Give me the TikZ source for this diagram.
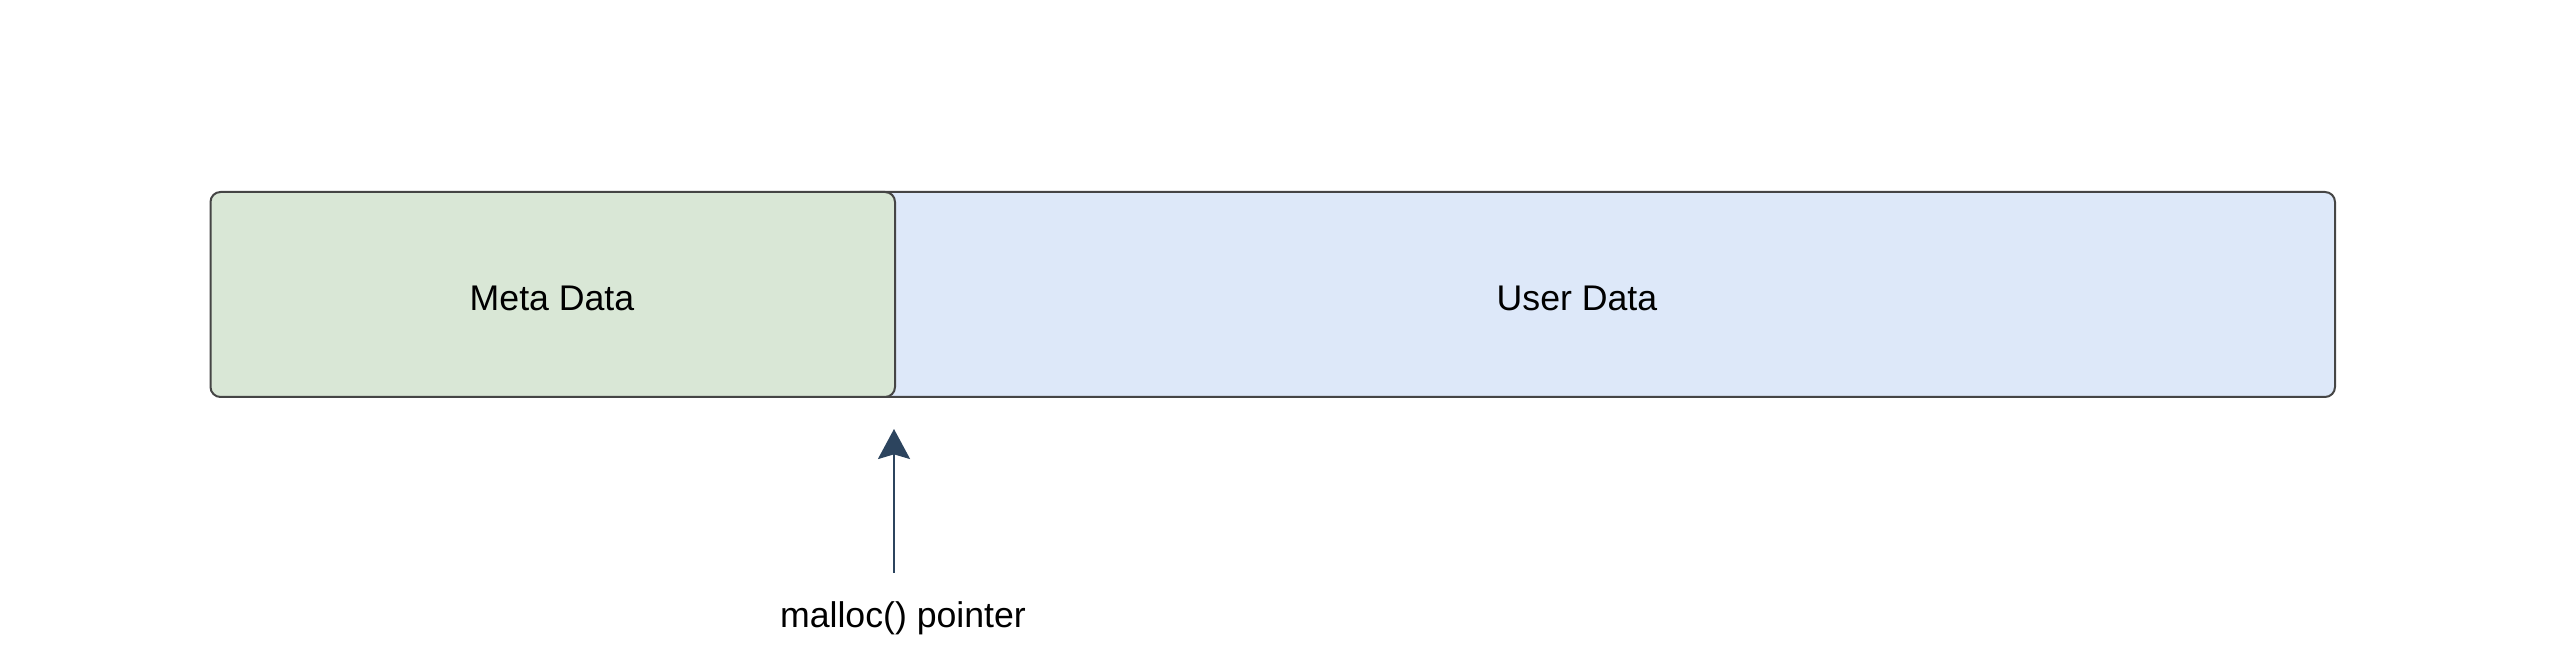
\documentclass[tikz,border=0pt]{standalone}
\usepackage{fontspec}
\setmainfont{Liberation Sans}
\usetikzlibrary{arrows.meta}
\definecolor{metafill}{HTML}{D9E7D6}
\definecolor{userfill}{HTML}{DDE8F9}
\definecolor{edge}{HTML}{454545}
\definecolor{arrowc}{HTML}{2C445E}
\tikzset{
  box/.style={draw=edge, line width=0.6pt, rounded corners=3pt, inner sep=0pt},
  lbl/.style={font=\fontsize{10.7pt}{12pt}\selectfont, text=black, inner sep=0pt},
  ptr/.style={draw=arrowc, line width=0.8pt, -{Stealth[length=9pt,width=9.6pt,inset=1.4pt]}}
}
\begin{document}
\begin{tikzpicture}[x=0.3pt,y=-0.3pt]
\useasboundingbox (0,0) rectangle (2570,668);
\draw[box, fill=userfill] (850,192) rectangle (2335,397);
\draw[box, fill=metafill] (210.5,192) rectangle (895,397);
\node[lbl] (meta) at (552,298) {Meta Data};
\node[lbl] (user) at (1577,298) {User Data};
\node[lbl] (mp) at (903,618) {malloc() pointer};
\coordinate (tip) at (894,429);
\coordinate (tail) at (894,573);
\draw[ptr] (tail) -- (tip);
\end{tikzpicture}
\end{document}
